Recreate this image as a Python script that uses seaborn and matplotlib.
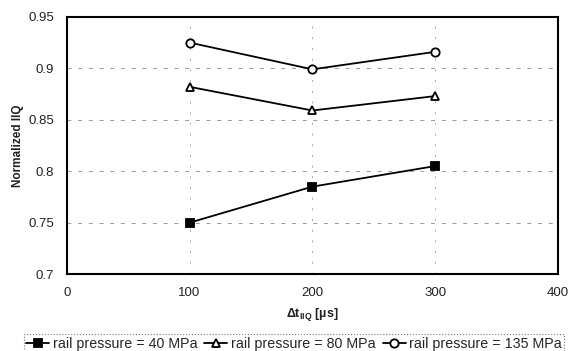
import matplotlib
matplotlib.use("Agg")
import matplotlib.pyplot as plt
import seaborn as sns
import pandas as pd

sns.set_theme(style="white")
plt.rcParams['font.family'] = ['Liberation Sans', 'DejaVu Sans']
plt.rcParams['mathtext.default'] = 'regular'

dt = [100, 200, 300]
p40 = [0.750, 0.785, 0.805]
p80 = [0.882, 0.859, 0.873]
p135 = [0.925, 0.899, 0.916]
labels = ["rail pressure = 40 MPa", "rail pressure = 80 MPa", "rail pressure = 135 MPa"]
xticks = [0, 100, 200, 300, 400]
yticks = [0.7, 0.75, 0.8, 0.85, 0.9, 0.95]
yticklabels = ["0.7", "0.75", "0.8", "0.85", "0.9", "0.95"]

fig = plt.figure(figsize=(5.71, 3.51), dpi=100)
ax = fig.add_axes([0.117, 0.219, 0.860, 0.733])

styles = [dict(marker='s', markersize=6, markerfacecolor='black'),
          dict(marker='^', markersize=6, markerfacecolor='white'),
          dict(marker='o', markersize=6, markerfacecolor='white')]
for vals, lab, st in zip([p40, p80, p135], labels, styles):
    df = pd.DataFrame({"x": dt, "y": vals})
    sns.lineplot(data=df, x="x", y="y", ax=ax, color='black', linewidth=1.3,
                 markeredgecolor='black', markeredgewidth=1.3, label=lab, **st)

ax.set_xlim(0, 400)
ax.set_ylim(0.7, 0.95)
ax.set_xticks(xticks)
ax.set_xticklabels([str(t) for t in xticks], fontsize=9.5)
ax.set_yticks(yticks)
ax.set_yticklabels(yticklabels, fontsize=9.5)
ax.tick_params(axis='both', length=0, pad=9, colors='#222222')
ax.set_xlabel(r"$\Delta$t$_{IIQ}$ [µs]", fontsize=9, fontweight='bold', labelpad=5, color='#222222')
ax.set_ylabel("Normalized IIQ", fontsize=8.5, fontweight='bold', labelpad=3, color='#222222')

for y in [0.75, 0.8, 0.85, 0.9]:
    ax.axhline(y, color='#999999', lw=0.7, ls=(0, (4, 7)), zorder=0)
for x in [100, 200, 300]:
    ax.axvline(x, color='#aaaaaa', lw=0.7, ls=(0, (2, 9)), zorder=0)

for s in ax.spines.values():
    s.set_visible(True)
    s.set_color('black')
    s.set_linewidth(1.5)

ax.legend_.remove()
handles, labs = ax.get_legend_handles_labels()
leg = fig.legend(handles, labs, loc='lower center', bbox_to_anchor=(0.515, -0.005), ncol=3,
                 fontsize=10.3, frameon=True, fancybox=False, handlelength=1.6,
                 handletextpad=0.25, columnspacing=0.5, borderpad=0.15, borderaxespad=0.0)
fr = leg.get_frame()
fr.set_edgecolor('#555555')
fr.set_linestyle(':')
fr.set_linewidth(0.8)

fig.savefig("out.png", dpi=100)
